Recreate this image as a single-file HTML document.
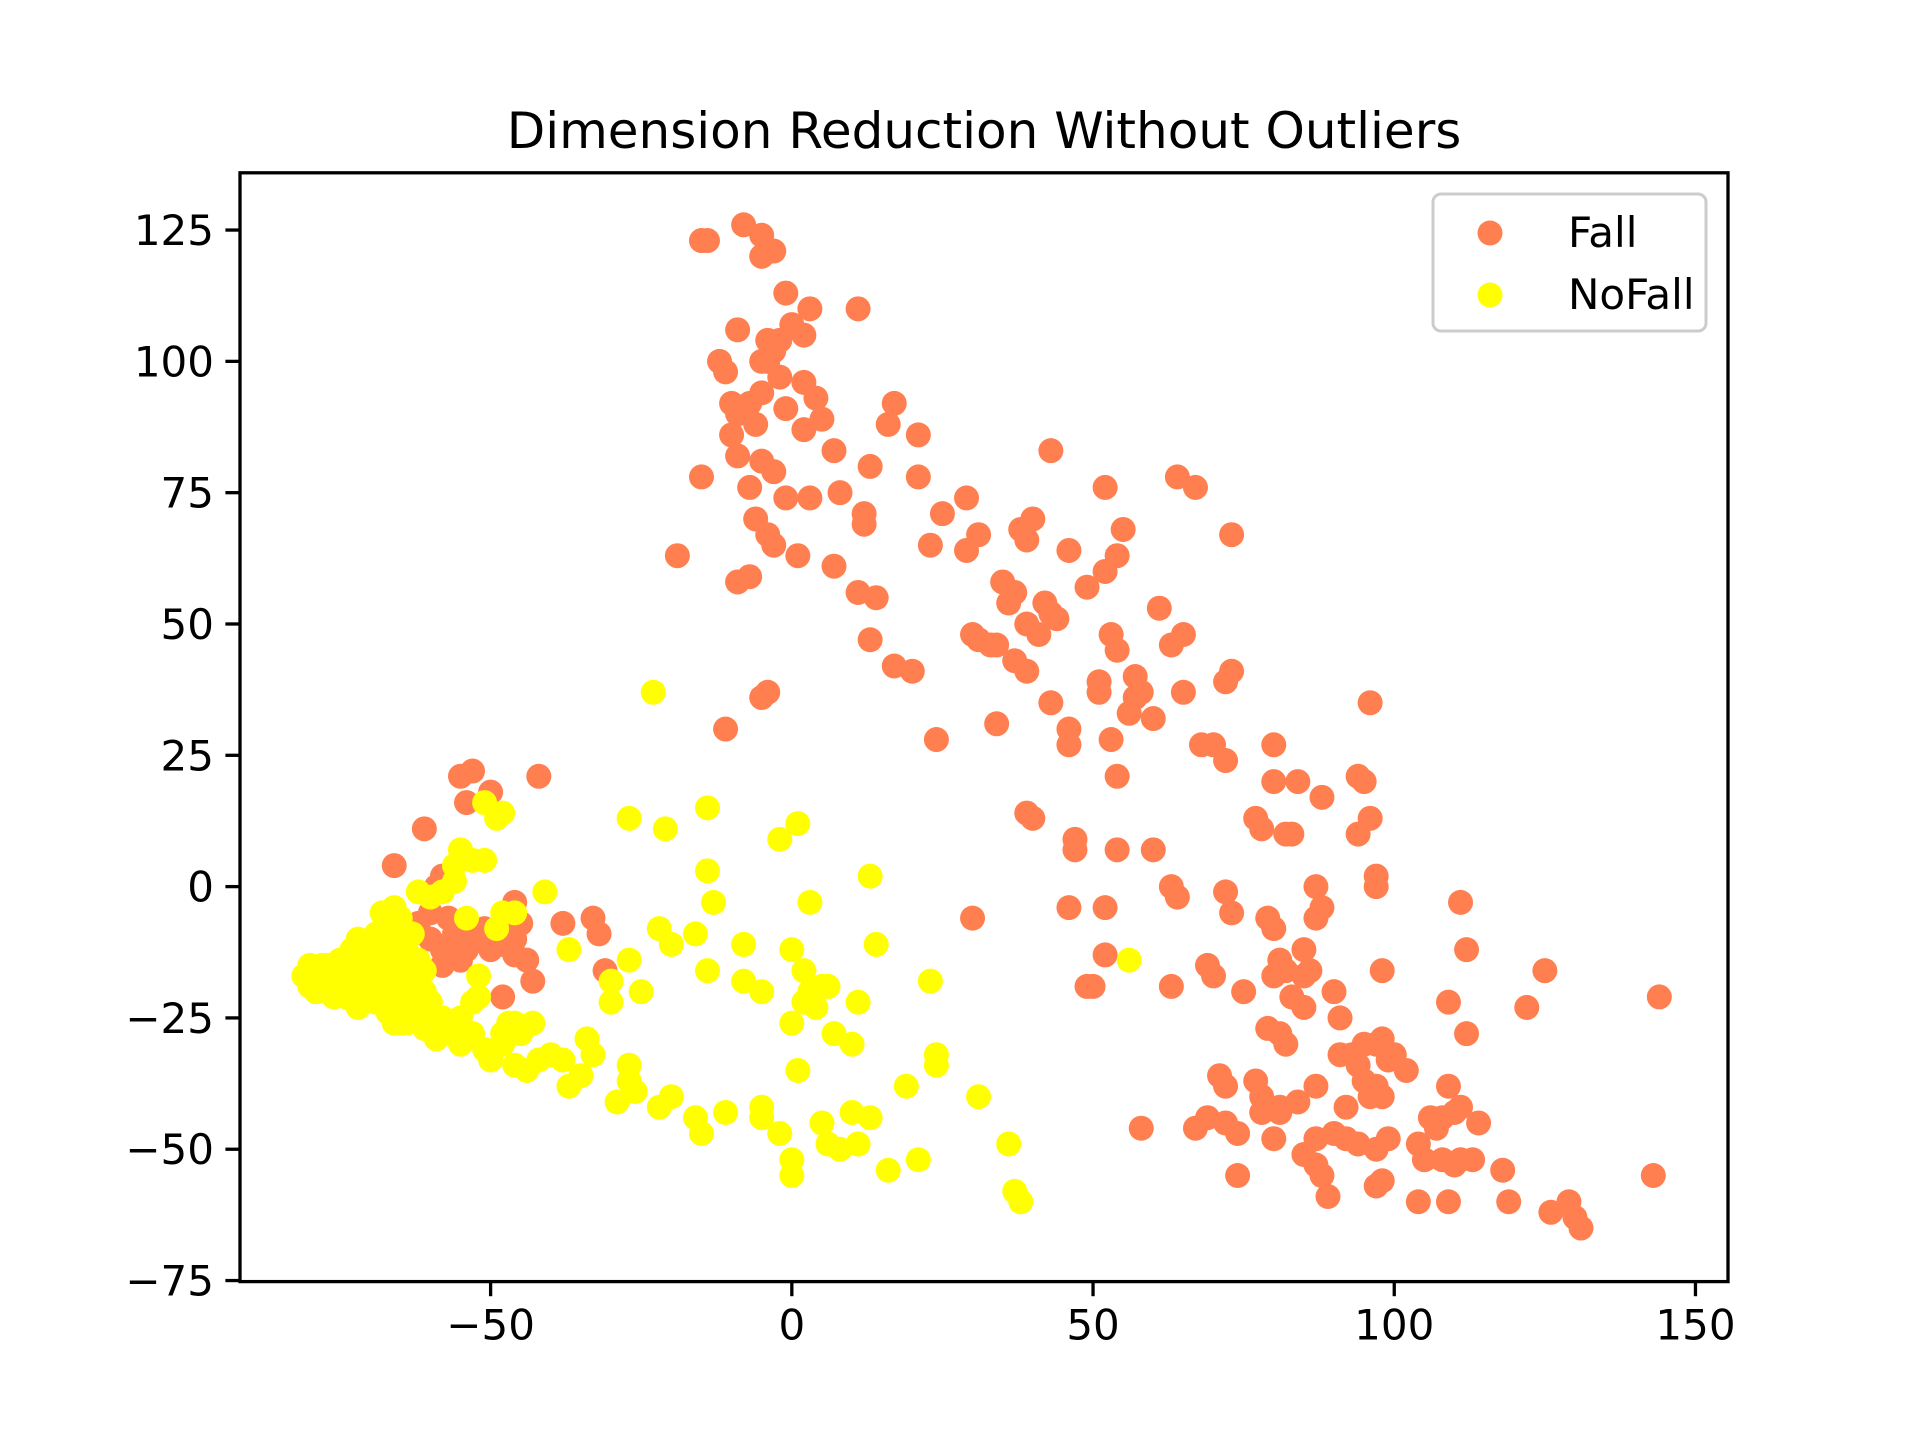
<!DOCTYPE html>
<html><head><meta charset="utf-8"><style>
html,body{margin:0;padding:0;background:#fff}
svg{display:block}
text{font-family:"DejaVu Sans","Liberation Sans",sans-serif;fill:#000}
</style></head><body>
<svg id="chart" width="1920" height="1440" viewBox="0 0 1920 1440">
<rect width="1920" height="1440" fill="#fff"/>
<text x="984" y="148" font-size="50" text-anchor="middle">Dimension Reduction Without Outliers</text>
<g id="points"></g>
<g id="axes"></g>
<g>
<rect x="1433" y="194" width="273" height="137" rx="8" fill="#fff" fill-opacity="0.8" stroke="#ccc" stroke-width="3"/>
<circle cx="1490" cy="233" r="12.5" fill="#ff7f50"/>
<text x="1568" y="247" font-size="42">Fall</text>
<circle cx="1490" cy="295" r="12.5" fill="#ffff00"/>
<text x="1568" y="309" font-size="42">NoFall</text>
</g>
</svg>
<script>
const xTicks=[-50,0,50,100,150];
const yTicks=[-75,-50,-25,0,25,50,75,100,125];
const fallX=[-8,-5,-15,-14,-3,-5,-1,11,3,-9,0,2,-4,-2,-3,-5,-12,-11,-4,-2,2,-10,-7,-9,-5,4,-1,-6,2,5,-10,17,16,21,-9,7,-5,-3,-15,13,21,-7,-1,3,8,12,12,-6,-4,-3,1,-19,7,-9,-7,11,14,13,17,20,-4,-5,-11,24,25,23,29,29,31,38,40,39,43,46,52,55,54,49,52,35,36,37,30,31,33,34,37,39,39,41,42,43,44,61,64,67,73,53,54,63,65,43,51,51,57,57,58,56,60,65,72,73,34,46,46,53,54,68,70,72,80,80,84,88,94,95,96,96,94,77,78,82,83,87,97,97,39,40,47,47,54,60,63,64,72,73,79,80,88,87,46,52,30,52,49,50,63,69,70,75,80,81,82,85,85,86,79,82,81,83,85,90,91,98,111,112,109,112,125,122,144,58,67,69,71,72,72,74,74,77,78,78,81,84,87,85,87,88,89,91,93,94,95,97,98,99,100,102,95,96,97,98,92,90,92,94,97,99,97,98,104,105,106,107,108,109,110,111,108,110,111,113,114,118,109,104,119,126,129,130,131,143,80,81,87,-66,-61,-55,-53,-54,-50,-42,-58,-59,-60,-62,-60,-58,-56,-54,-53,-51,-50,-48,-46,-46,-44,-45,-46,-43,-48,-55,-58,-38,-33,-32,-31,-57,-63];
const fallY=[126,124,123,123,121,120,113,110,110,106,107,105,104,104,102,100,100,98,100,97,96,92,92,90,94,93,91,88,87,89,86,92,88,86,82,83,81,79,78,80,78,76,74,74,75,71,69,70,67,65,63,63,61,58,59,56,55,47,42,41,37,36,30,28,71,65,74,64,67,68,70,66,83,64,76,68,63,57,60,58,54,56,48,47,46,46,43,41,50,48,54,52,51,53,78,76,67,48,45,46,48,35,39,37,40,36,37,33,32,37,39,41,31,30,27,28,21,27,27,24,27,20,20,17,21,20,35,13,10,13,11,10,10,0,2,0,14,13,9,7,7,7,0,-2,-1,-5,-6,-8,-4,-6,-4,-4,-6,-13,-19,-19,-19,-15,-17,-20,-17,-14,-16,-17,-12,-16,-27,-30,-28,-21,-23,-20,-25,-16,-3,-12,-22,-28,-16,-23,-21,-46,-46,-44,-36,-38,-45,-47,-55,-37,-40,-43,-42,-41,-38,-51,-53,-55,-59,-32,-32,-34,-30,-30,-29,-33,-32,-35,-37,-40,-38,-40,-42,-47,-48,-49,-50,-48,-57,-56,-49,-52,-44,-46,-44,-38,-43,-42,-52,-53,-52,-52,-45,-54,-60,-60,-60,-62,-60,-63,-65,-55,-48,-43,-48,4,11,21,22,16,18,21,2,0,-5,-7,-10,-12,-9,-12,-10,-8,-12,-11,-10,-13,-14,-7,-3,-18,-21,-14,-15,-7,-6,-9,-16,-6,-9];
const noFallX=[-23,-27,-21,-14,1,-2,-14,13,-13,3,-41,-37,-22,-20,-16,-8,0,2,3,5,6,14,-14,-8,-5,2,4,0,7,10,11,23,24,24,31,19,-27,-25,-30,-30,-27,-27,-26,-29,-34,-33,-35,-37,-38,-40,-42,-44,-46,-43,-45,-48,-50,-51,-53,-55,-57,-59,-61,-63,-65,-60,-52,-53,-52,-20,-22,-16,-15,-11,-5,-5,-2,0,0,1,5,6,8,10,11,13,16,21,36,37,38,-51,-49,-48,-55,-53,-51,-56,-60,-62,-48,-49,-54,-46,-56,-58,56,-81,-80,-79,-78,-78,-77,-76,-75,-75,-74,-73,-73,-72,-72,-71,-71,-70,-70,-69,-69,-68,-68,-67,-67,-67,-66,-66,-65,-65,-65,-64,-64,-63,-63,-62,-62,-61,-61,-66,-64,-70,-74,-76,-77,-68,-66,-69,-72,-80,-79,-62,-60,-58,-56,-55,-48,-47,-46];
const noFallY=[37,13,11,15,12,9,3,2,-3,-3,-1,-12,-8,-11,-9,-11,-12,-16,-20,-19,-19,-11,-16,-18,-20,-22,-23,-26,-28,-30,-22,-18,-32,-34,-40,-38,-14,-20,-18,-22,-34,-37,-39,-41,-29,-32,-36,-38,-33,-32,-33,-35,-34,-26,-28,-30,-33,-31,-28,-30,-26,-29,-27,-24,-26,-24,-17,-22,-21,-40,-42,-44,-47,-43,-42,-44,-47,-52,-55,-35,-45,-49,-50,-43,-49,-44,-54,-52,-49,-58,-60,16,13,14,7,5,5,1,-2,-1,-5,-8,-6,-5,4,-1,-14,-17,-19,-16,-18,-15,-20,-17,-14,-19,-21,-16,-12,-18,-23,-14,-20,-11,-17,-22,-15,-13,-19,-8,-16,-24,-10,-20,-6,-14,-18,-12,-22,-16,-9,-14,-18,-20,-16,-26,-26,-20,-16,-21,-15,-5,-4,-9,-10,-15,-20,-22,-22,-25,-27,-25,-28,-26,-26];
const L=240,R=1728,T=172.8,B=1281.6;
const xmin=-91.6,xmax=155.4,ymin=-75.2,ymax=135.9;
function sx(v){return L+(v-xmin)/(xmax-xmin)*(R-L);}
function sy(v){return B-(v-ymin)/(ymax-ymin)*(B-T);}
const NS="http://www.w3.org/2000/svg";
const pts=document.getElementById('points');
function drawSeries(xs,ys,color,name){
  for(let i=0;i<xs.length;i++){
    const c=document.createElementNS(NS,'circle');
    c.setAttribute('cx',sx(xs[i]));c.setAttribute('cy',sy(ys[i]));
    c.setAttribute('r',12.5);c.setAttribute('fill',color);
    
    
    pts.appendChild(c);
  }
}
drawSeries(fallX,fallY,'#ff7f50','fall-point');
drawSeries(noFallX,noFallY,'#ffff00','nofall-point');
const ax=document.getElementById('axes');
const frame=document.createElementNS(NS,'rect');
frame.setAttribute('x',L);frame.setAttribute('y',T);frame.setAttribute('width',R-L);frame.setAttribute('height',B-T);
frame.setAttribute('fill','none');frame.setAttribute('stroke','#000');frame.setAttribute('stroke-width',3.3);


ax.appendChild(frame);
function fmt(v){return v<0?'\u2212'+Math.abs(v):String(v);}
xTicks.forEach(v=>{
  const x=sx(v);
  const l=document.createElementNS(NS,'line');
  l.setAttribute('x1',x);l.setAttribute('x2',x);l.setAttribute('y1',B);l.setAttribute('y2',B+14.6);
  l.setAttribute('stroke','#000');l.setAttribute('stroke-width',3.3);
  
  
  ax.appendChild(l);
  const t=document.createElementNS(NS,'text');
  t.setAttribute('x',x);t.setAttribute('y',B+58);t.setAttribute('font-size',42);t.setAttribute('text-anchor','middle');
  t.textContent=fmt(v);
  
  
  ax.appendChild(t);
});
yTicks.forEach(v=>{
  const y=sy(v);
  const l=document.createElementNS(NS,'line');
  l.setAttribute('x1',L-14.6);l.setAttribute('x2',L);l.setAttribute('y1',y);l.setAttribute('y2',y);
  l.setAttribute('stroke','#000');l.setAttribute('stroke-width',3.3);
  
  
  ax.appendChild(l);
  const t=document.createElementNS(NS,'text');
  t.setAttribute('x',L-26);t.setAttribute('y',y+15);t.setAttribute('font-size',42);t.setAttribute('text-anchor','end');
  t.textContent=fmt(v);
  
  
  ax.appendChild(t);
});
</script>
</body></html>
